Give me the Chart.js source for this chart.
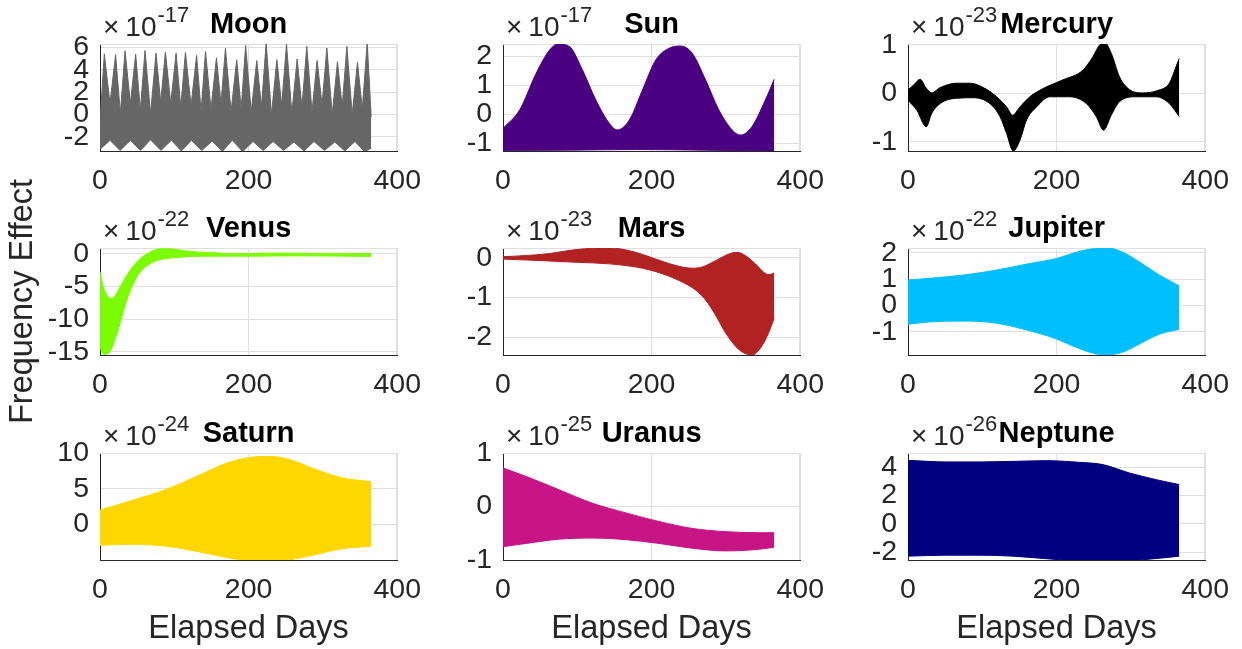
<!DOCTYPE html>
<html>
<head>
<meta charset="utf-8">
<script src="https://cdn.jsdelivr.net/npm/chart.js@4.4.1/dist/chart.umd.min.js"></script>
<style>
  html, body { margin: 0; padding: 0; background: #ffffff; }
  #fig { position: relative; width: 1242px; height: 649px; overflow: hidden; background: #ffffff; }
  #fig canvas { position: absolute; }
</style>
</head>
<body>
<div id="fig"></div>
<script>
// ---- Envelope data (upper / lower bound of each body's frequency effect, by elapsed day) ----
const xTicks = [0, 200, 400];

// Moon (x1e-17)
const moonUpperDays = [0, 5.8, 13.4, 21, 27.4, 33.7, 40.9, 48, 54.3, 60.6, 68, 75.4, 81.7, 88, 95.2, 102.4, 108.7, 115, 122.5, 130, 136, 142, 149.4, 156.7, 162.8, 168.8, 176.4, 184, 190, 196, 203.5, 211, 217.3, 223.6, 230.8, 238, 244.5, 251, 258.2, 265.3, 271.8, 278.3, 285.3, 292.2, 298.8, 305.3, 312.5, 319.6, 325.9, 332.2, 339.4, 346.5, 353, 359.6, 365];
const moonUpperVals = [-0.65, 5.43, 1.0, 5.34, 0.1, 5.69, 1.0, 5.40, 0.4, 5.72, 0.1, 5.49, 1.1, 5.58, 1.0, 5.49, 0.7, 5.55, 0.8, 5.28, 0.3, 5.63, 0.5, 5.07, 1.0, 5.90, 0.3, 4.89, 0.5, 6.17, 0.26, 4.83, 0.7, 6.39, 0.0, 4.90, 0.86, 6.27, 0.12, 4.96, 0.7, 6.09, 0.26, 4.83, 0.86, 5.94, 0.0, 4.72, 0.7, 6.09, 0.0, 4.66, 0.5, 6.45, -0.2];
const moonLowerDays = [0, 13.5, 27, 41, 54.5, 68, 82, 96, 109.5, 123, 137, 151, 164.5, 178, 192, 206, 219.5, 233, 247, 261, 274.5, 288, 302, 316, 329.5, 343, 356, 365];
const moonLowerVals = [-3.1, -2.3, -3.2, -2.3, -3.2, -2.25, -3.2, -2.3, -3.25, -2.3, -3.2, -2.35, -3.3, -2.3, -3.3, -2.4, -3.2, -2.4, -3.2, -2.45, -3.25, -2.4, -3.2, -2.45, -3.25, -2.4, -3.3, -3.0];
const moonTicks = [-2, 0, 2, 4, 6];

// Sun (x1e-17)
const sunUpperDays = [0, 22.4, 44.7, 62.6, 73.7, 89.4, 107, 125, 143, 154, 170, 187.7, 205.6, 223.4, 239, 254.7, 272.6, 290.5, 308.3, 319.5, 335, 353, 365];
const sunUpperVals = [-0.49, 0.15, 1.42, 2.22, 2.43, 2.34, 1.53, 0.49, -0.31, -0.54, -0.2, 0.84, 1.88, 2.28, 2.36, 2.11, 1.19, 0.15, -0.54, -0.72, -0.43, 0.49, 1.21];
const sunLowerDays = [0, 90, 180, 270, 365];
const sunLowerVals = [-1.25, -1.24, -1.22, -1.24, -1.27];
const sunTicks = [-1, 0, 1, 2];

// Mercury (x1e-23)
const mercuryUpperDays = [0, 8, 16.5, 24, 32, 43.3, 65.7, 83.5, 101.4, 119.3, 132.7, 140.8, 150.6, 164, 181.8, 208.6, 235.4, 248.9, 257.8, 264.5, 273.5, 284.7, 298, 316, 336, 351.7, 360.7, 365];
const mercuryUpperVals = [0.07, 0.18, 0.29, 0.12, 0.01, 0.12, 0.21, 0.21, 0.12, -0.07, -0.28, -0.45, -0.28, -0.07, 0.10, 0.28, 0.48, 0.76, 1.0, 1.05, 0.83, 0.34, 0.08, 0.01, 0.06, 0.21, 0.55, 0.72];
const mercuryLowerDays = [0, 12, 24.5, 32, 43.3, 65.7, 88, 110, 123.8, 132.7, 141.6, 150.6, 159.5, 173, 190.8, 217.6, 240, 253.4, 263.2, 273.5, 284.7, 307, 334, 351.7, 365];
const mercuryLowerVals = [-0.14, -0.35, -0.69, -0.41, -0.21, -0.10, -0.09, -0.21, -0.48, -0.83, -1.19, -0.97, -0.55, -0.28, -0.07, -0.07, -0.21, -0.48, -0.76, -0.45, -0.17, -0.07, -0.07, -0.21, -0.48];
const mercuryTicks = [-1, 0, 1];

// Venus (x1e-22)
const venusUpperDays = [0, 4.5, 10, 15.7, 21, 27, 40.4, 53.9, 67.3, 80.8, 94.3, 112, 134.7, 157, 179.5, 224.5, 269, 314, 365];
const venusUpperVals = [-2.78, -5.07, -6.4, -6.84, -6.3, -5.07, -2.52, -0.73, 0.27, 0.79, 0.79, 0.53, 0.27, 0.18, 0.03, 0.12, 0.12, 0.03, 0.12];
const venusLowerDays = [0, 2, 6.5, 13.5, 20, 27, 36, 45, 54, 67.3, 80.8, 98.7, 125.6, 157, 202, 269, 365];
const venusLowerVals = [-14.0, -15.0, -15.4, -15.0, -13.2, -10.66, -7.1, -4.55, -2.78, -1.5, -0.89, -0.58, -0.38, -0.33, -0.33, -0.28, -0.38];
const venusTicks = [-15, -10, -5, 0];

// Mars (x1e-23)
const marsUpperDays = [0, 31.4, 62.6, 98.4, 134, 152, 178.8, 205.6, 232.4, 254.7, 268, 286, 304, 315, 326, 339.7, 350.8, 357.5, 365];
const marsUpperVals = [0.03, 0.06, 0.11, 0.21, 0.25, 0.24, 0.14, -0.03, -0.19, -0.26, -0.23, -0.07, 0.10, 0.14, 0.06, -0.15, -0.36, -0.42, -0.38];
const marsLowerDays = [0, 53.6, 98.4, 143, 187.7, 214.5, 241.3, 259.2, 272.6, 286, 299.5, 317.3, 335, 348.5, 357.5, 365];
const marsLowerVals = [-0.03, -0.07, -0.11, -0.15, -0.26, -0.4, -0.61, -0.81, -1.06, -1.44, -1.89, -2.31, -2.45, -2.22, -1.89, -1.52];
const marsTicks = [-2, -1, 0];

// Jupiter (x1e-22)
const jupiterUpperDays = [0, 30, 74.5, 119.3, 164, 199.8, 226.6, 248.9, 271, 289, 311.5, 338.3, 365];
const jupiterUpperVals = [0.97, 1.04, 1.16, 1.35, 1.6, 1.79, 2.03, 2.16, 2.18, 2.03, 1.66, 1.16, 0.75];
const jupiterLowerDays = [0, 30, 74.5, 119.3, 164, 199.8, 226.6, 253.4, 269, 289, 311.5, 338.3, 365];
const jupiterLowerVals = [-0.71, -0.62, -0.59, -0.67, -0.96, -1.27, -1.59, -1.84, -1.88, -1.77, -1.46, -1.09, -0.9];
const jupiterTicks = [-1, 0, 1, 2];

// Saturn (x1e-24)
const saturnUpperDays = [0, 45, 89.8, 134.7, 170.6, 202, 229, 256, 291.5, 327.7, 365];
const saturnUpperVals = [2.0, 3.42, 4.93, 6.94, 8.59, 9.38, 9.52, 9.06, 7.65, 6.48, 6.0];
const saturnLowerDays = [0, 45, 89.8, 134.7, 179.5, 224.5, 256, 291.5, 327.7, 365];
const saturnLowerVals = [-2.92, -2.77, -3.06, -3.86, -4.79, -5.17, -4.93, -4.18, -3.38, -3.06];
const saturnTicks = [0, 5, 10];

// Uranus (x1e-25)
const uranusUpperDays = [0, 31.4, 76, 120.6, 165.4, 210, 254.7, 299.5, 344, 365];
const uranusUpperVals = [0.72, 0.56, 0.31, 0.06, -0.12, -0.28, -0.41, -0.47, -0.49, -0.49];
const uranusLowerDays = [0, 31.4, 76, 120.6, 165.4, 210, 254.7, 299.5, 344, 365];
const uranusLowerVals = [-0.75, -0.69, -0.61, -0.59, -0.62, -0.69, -0.78, -0.83, -0.80, -0.76];
const uranusTicks = [-1, 0, 1];

// Neptune (x1e-26)
const neptuneUpperDays = [0, 52, 97, 141.6, 186.4, 231, 262.3, 298, 334, 365];
const neptuneUpperVals = [4.48, 4.37, 4.37, 4.41, 4.46, 4.34, 4.18, 3.59, 3.12, 2.77];
const neptuneLowerDays = [0, 52, 97, 141.6, 186.4, 231, 275.7, 320.5, 365];
const neptuneLowerVals = [-2.28, -2.21, -2.21, -2.28, -2.46, -2.61, -2.63, -2.51, -2.28];
const neptuneTicks = [-2, 0, 2, 4];

// ---- Figure layout ----
const FONT = '"Liberation Sans", Arial, Helvetica, sans-serif';
const TEXT = '#262626';
const GRID = '#dfdfdf';
const colLeft = [100, 503, 908];
const axW = 298;
const rowTop = [44, 248, 453];
const rowBottom = [151, 355, 560];

const pts = (days, vals) => days.map((d, i) => ({ x: d, y: vals[i] }));

const panels = [
  { name: 'Moon',    exp: '-17', color: '#666666', row: 0, col: 0, yMin: -3.25, yMax: 6.3,  ticks: moonTicks,    up: pts(moonUpperDays, moonUpperVals),       lo: pts(moonLowerDays, moonLowerVals), straight: true },
  { name: 'Sun',     exp: '-17', color: '#4b0082', row: 0, col: 1, yMin: -1.27, yMax: 2.43, ticks: sunTicks,     up: pts(sunUpperDays, sunUpperVals),         lo: pts(sunLowerDays, sunLowerVals) },
  { name: 'Mercury', exp: '-23', color: '#000000', row: 0, col: 2, yMin: -1.19, yMax: 1.02, ticks: mercuryTicks, up: pts(mercuryUpperDays, mercuryUpperVals), lo: pts(mercuryLowerDays, mercuryLowerVals) },
  { name: 'Venus',   exp: '-22', color: '#7cfc00', row: 1, col: 0, yMin: -15.5, yMax: 0.92, ticks: venusTicks,  up: pts(venusUpperDays, venusUpperVals),     lo: pts(venusLowerDays, venusLowerVals), ylabel: 'Frequency Effect' },
  { name: 'Mars',    exp: '-23', color: '#b22222', row: 1, col: 1, yMin: -2.45, yMax: 0.25, ticks: marsTicks,    up: pts(marsUpperDays, marsUpperVals),       lo: pts(marsLowerDays, marsLowerVals) },
  { name: 'Jupiter', exp: '-22', color: '#00bfff', row: 1, col: 2, yMin: -1.88, yMax: 2.19, ticks: jupiterTicks, up: pts(jupiterUpperDays, jupiterUpperVals), lo: pts(jupiterLowerDays, jupiterLowerVals) },
  { name: 'Saturn',  exp: '-24', color: '#ffd700', row: 2, col: 0, yMin: -4.98, yMax: 10,   ticks: saturnTicks,  up: pts(saturnUpperDays, saturnUpperVals),   lo: pts(saturnLowerDays, saturnLowerVals), xlabel: 'Elapsed Days' },
  { name: 'Uranus',  exp: '-25', color: '#c71585', row: 2, col: 1, yMin: -1,    yMax: 1,    ticks: uranusTicks,  up: pts(uranusUpperDays, uranusUpperVals),   lo: pts(uranusLowerDays, uranusLowerVals), xlabel: 'Elapsed Days' },
  { name: 'Neptune', exp: '-26', color: '#000080', row: 2, col: 2, yMin: -2.55, yMax: 5.0,  ticks: neptuneTicks, up: pts(neptuneUpperDays, neptuneUpperVals), lo: pts(neptuneLowerDays, neptuneLowerVals), xlabel: 'Elapsed Days' }
];

// Light box edges, bold title and the x10^n exponent label of each subplot
const panelDecor = {
  id: 'panelDecor',
  beforeDatasetsDraw(chart) {
    const { ctx, chartArea: a } = chart;
    ctx.save();
    ctx.strokeStyle = GRID;
    ctx.lineWidth = 1;
    ctx.beginPath();
    ctx.moveTo(a.left, Math.round(a.top) + 0.5);
    ctx.lineTo(Math.round(a.right) - 0.5, Math.round(a.top) + 0.5);
    ctx.lineTo(Math.round(a.right) - 0.5, a.bottom);
    ctx.stroke();
    ctx.restore();
  },
  afterDraw(chart, args, opts) {
    const { ctx, chartArea: a } = chart;
    ctx.save();
    ctx.fillStyle = '#000000';
    ctx.font = 'bold 29px ' + FONT;
    ctx.textAlign = 'center';
    ctx.textBaseline = 'alphabetic';
    ctx.fillText(opts.title, (a.left + a.right) / 2, a.top - 11);

    ctx.fillStyle = TEXT;
    ctx.textAlign = 'left';
    ctx.font = '28px ' + FONT;
    let x = a.left + 3;
    ctx.fillText('\u00d7', x, a.top - 8);
    x += ctx.measureText('\u00d7').width + 6;
    ctx.fillText('10', x, a.top - 8);
    x += ctx.measureText('10').width + 1;
    ctx.font = '22px ' + FONT;
    ctx.fillText(opts.exp, x, a.top - 22);
    ctx.restore();
  }
};

Chart.defaults.font.family = FONT;

const fig = document.getElementById('fig');
panels.forEach(p => {
  const left = colLeft[p.col] - 100;
  let top = rowTop[p.row] - 44;
  let padTop = 44;
  let xh = 45;
  if (p.ylabel) { top = 150; padTop = rowTop[p.row] - top; xh = 450 - rowBottom[p.row]; }
  if (p.xlabel) { xh = 649 - rowBottom[p.row]; }
  const width = 100 + axW + 36;
  const height = padTop + (rowBottom[p.row] - rowTop[p.row]) + xh;

  const cv = document.createElement('canvas');
  cv.width = width; cv.height = height;
  cv.style.left = left + 'px'; cv.style.top = top + 'px';
  cv.style.width = width + 'px'; cv.style.height = height + 'px';
  fig.appendChild(cv);

  const tickFont = { family: FONT, size: 28.5 };
  const lineStyle = p.straight
    ? { borderColor: p.color, backgroundColor: p.color, borderWidth: 1, pointRadius: 0, tension: 0 }
    : { borderColor: p.color, backgroundColor: p.color, borderWidth: 1, pointRadius: 0, cubicInterpolationMode: 'monotone' };

  new Chart(cv, {
    type: 'line',
    data: {
      datasets: [
        Object.assign({ data: p.up, fill: '+1' }, lineStyle),
        Object.assign({ data: p.lo, fill: false }, lineStyle)
      ]
    },
    options: {
      responsive: false,
      animation: false,
      events: [],
      layout: { padding: { top: padTop, right: 36, left: 0, bottom: 0 } },
      plugins: {
        legend: { display: false },
        tooltip: { enabled: false },
        title: { display: false },
        panelDecor: { title: p.name, exp: p.exp }
      },
      scales: {
        x: {
          type: 'linear', min: 0, max: 400,
          afterBuildTicks: s => { s.ticks = xTicks.map(v => ({ value: v })); },
          afterFit: s => { s.height = xh; },
          ticks: { font: tickFont, color: TEXT, padding: 13, autoSkip: false, maxRotation: 0 },
          grid: { color: GRID, drawTicks: false },
          border: { color: TEXT, width: 1 },
          title: p.xlabel ? { display: true, text: p.xlabel, color: TEXT, font: { family: FONT, size: 32.5 }, padding: { top: 0, bottom: 0 } } : { display: false }
        },
        y: {
          type: 'linear', min: p.yMin, max: p.yMax,
          afterBuildTicks: s => { s.ticks = p.ticks.map(v => ({ value: v })); },
          afterFit: s => { s.width = 100; },
          ticks: { font: tickFont, color: TEXT, padding: 11, autoSkip: false },
          grid: { color: GRID, drawTicks: false },
          border: { color: TEXT, width: 1 },
          title: p.ylabel ? { display: true, text: p.ylabel, color: TEXT, font: { family: FONT, size: 32.5 }, padding: { top: 3.5, bottom: 0 } } : { display: false }
        }
      }
    },
    plugins: [panelDecor]
  });
});
</script>
</body>
</html>
